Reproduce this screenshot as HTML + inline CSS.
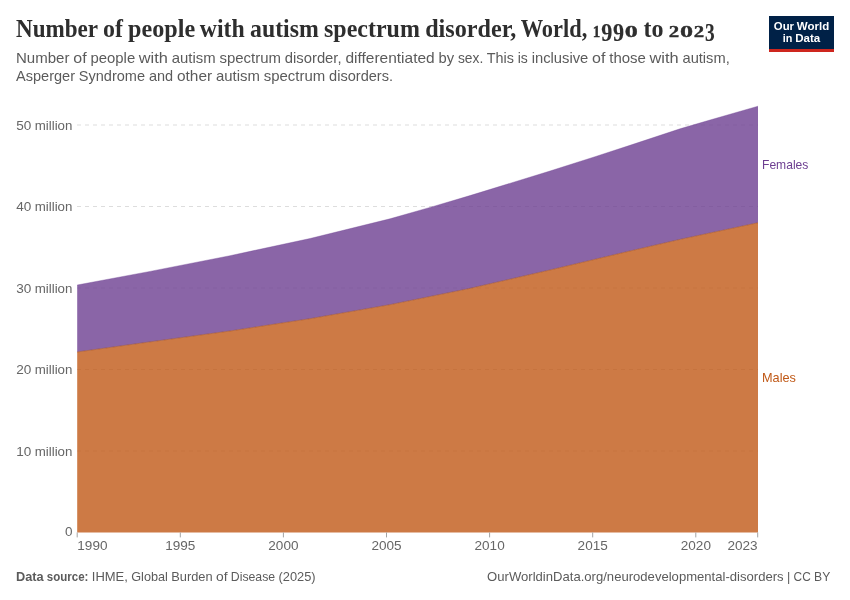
<!DOCTYPE html>
<html lang="en">
<head>
<meta charset="utf-8">
<title>Number of people with autism spectrum disorder, World, 1990 to 2023</title>
<style>
html,body{margin:0;padding:0;background:#fff;}
body{width:850px;height:600px;overflow:hidden;font-family:"Liberation Sans", sans-serif;}
svg{display:block;}
text{font-family:"Liberation Sans", sans-serif;}
.title{font-family:"Liberation Serif", serif;font-weight:bold;font-size:25px;fill:#2e2e2e;}
.sub{font-size:14.8px;fill:#5b5b5b;}
.ax{font-size:12.8px;fill:#666;}
.ft{font-size:12.8px;fill:#5b5b5b;}
.lg{font-size:11.8px;font-weight:bold;fill:#fff;}
</style>
</head>
<body>
<svg width="850" height="600" viewBox="0 0 850 600">
<rect x="0" y="0" width="850" height="600" fill="#ffffff"/>
<text class="title" y="37.4"><tspan x="16.00" y="37.4" textLength="81.70" lengthAdjust="spacingAndGlyphs">Number</tspan> <tspan x="102.97" y="37.4" textLength="19.89" lengthAdjust="spacingAndGlyphs">of</tspan> <tspan x="128.12" y="37.4" textLength="67.06" lengthAdjust="spacingAndGlyphs">people</tspan> <tspan x="199.84" y="37.4" textLength="44.95" lengthAdjust="spacingAndGlyphs">with</tspan> <tspan x="250.06" y="37.4" textLength="68.73" lengthAdjust="spacingAndGlyphs">autism</tspan> <tspan x="324.06" y="37.4" textLength="95.81" lengthAdjust="spacingAndGlyphs">spectrum</tspan> <tspan x="425.14" y="37.4" textLength="91.11" lengthAdjust="spacingAndGlyphs">disorder,</tspan> <tspan x="520.73" y="37.4" textLength="66.55" lengthAdjust="spacingAndGlyphs">World,</tspan> <tspan x="592.82" y="37.4" font-size="17.6" stroke="#2e2e2e" stroke-width="0.35" textLength="7.56" lengthAdjust="spacingAndGlyphs">1</tspan><tspan x="601.17" y="41.4" font-size="24.6" stroke="#2e2e2e" stroke-width="0.15" textLength="11.06" lengthAdjust="spacingAndGlyphs">9</tspan><tspan x="613.01" y="41.4" font-size="24.6" stroke="#2e2e2e" stroke-width="0.15" textLength="11.04" lengthAdjust="spacingAndGlyphs">9</tspan><tspan x="624.84" y="37.4" font-size="17.6" stroke="#2e2e2e" stroke-width="0.35" textLength="13.07" lengthAdjust="spacingAndGlyphs">0</tspan> <tspan x="643.42" y="37.4" textLength="20.00" lengthAdjust="spacingAndGlyphs">to</tspan> <tspan x="668.82" y="37.4" font-size="17.6" stroke="#2e2e2e" stroke-width="0.35" textLength="10.42" lengthAdjust="spacingAndGlyphs">2</tspan><tspan x="680.02" y="37.4" font-size="17.6" stroke="#2e2e2e" stroke-width="0.35" textLength="13.07" lengthAdjust="spacingAndGlyphs">0</tspan><tspan x="693.88" y="37.4" font-size="17.6" stroke="#2e2e2e" stroke-width="0.35" textLength="10.40" lengthAdjust="spacingAndGlyphs">2</tspan><tspan x="705.07" y="41.4" font-size="24.6" stroke="#2e2e2e" stroke-width="0.15" textLength="9.67" lengthAdjust="spacingAndGlyphs">3</tspan></text>
<text class="sub" y="62.5"><tspan x="16.00" textLength="53.48" lengthAdjust="spacingAndGlyphs">Number</tspan> <tspan x="73.33" textLength="13.33" lengthAdjust="spacingAndGlyphs">of</tspan> <tspan x="90.50" textLength="44.70" lengthAdjust="spacingAndGlyphs">people</tspan> <tspan x="138.75" textLength="29.14" lengthAdjust="spacingAndGlyphs">with</tspan> <tspan x="171.73" textLength="43.89" lengthAdjust="spacingAndGlyphs">autism</tspan> <tspan x="219.47" textLength="61.53" lengthAdjust="spacingAndGlyphs">spectrum</tspan> <tspan x="284.84" textLength="56.75" lengthAdjust="spacingAndGlyphs">disorder,</tspan> <tspan x="345.44" textLength="89.25" lengthAdjust="spacingAndGlyphs">differentiated</tspan> <tspan x="438.53" textLength="15.58" lengthAdjust="spacingAndGlyphs">by</tspan> <tspan x="457.95" textLength="25.33" lengthAdjust="spacingAndGlyphs">sex.</tspan> <tspan x="486.67" textLength="27.20" lengthAdjust="spacingAndGlyphs">This</tspan> <tspan x="517.72" textLength="10.11" lengthAdjust="spacingAndGlyphs">is</tspan> <tspan x="531.67" textLength="56.59" lengthAdjust="spacingAndGlyphs">inclusive</tspan> <tspan x="592.11" textLength="13.33" lengthAdjust="spacingAndGlyphs">of</tspan> <tspan x="609.28" textLength="36.67" lengthAdjust="spacingAndGlyphs">those</tspan> <tspan x="649.50" textLength="29.14" lengthAdjust="spacingAndGlyphs">with</tspan> <tspan x="682.48" textLength="47.30" lengthAdjust="spacingAndGlyphs">autism,</tspan></text>
<text class="sub" y="80.5"><tspan x="16.00" textLength="59.02" lengthAdjust="spacingAndGlyphs">Asperger</tspan> <tspan x="78.86" textLength="66.17" lengthAdjust="spacingAndGlyphs">Syndrome</tspan> <tspan x="148.88" textLength="24.23" lengthAdjust="spacingAndGlyphs">and</tspan> <tspan x="176.95" textLength="35.19" lengthAdjust="spacingAndGlyphs">other</tspan> <tspan x="215.98" textLength="43.89" lengthAdjust="spacingAndGlyphs">autism</tspan> <tspan x="263.72" textLength="61.53" lengthAdjust="spacingAndGlyphs">spectrum</tspan> <tspan x="329.09" textLength="63.94" lengthAdjust="spacingAndGlyphs">disorders.</tspan></text>
<g>
<rect x="769" y="16" width="65" height="36" fill="#002147"/>
<rect x="769" y="49" width="65" height="3" fill="#ce261e"/>
<text class="lg" y="30.4"><tspan x="773.84" textLength="20.19" lengthAdjust="spacingAndGlyphs">Our</tspan> <tspan x="796.80" textLength="32.36" lengthAdjust="spacingAndGlyphs">World</tspan></text>
<text class="lg" y="42.4"><tspan x="782.75" textLength="9.62" lengthAdjust="spacingAndGlyphs">in</tspan> <tspan x="795.23" textLength="25.02" lengthAdjust="spacingAndGlyphs">Data</tspan></text>
</g>
<g stroke="#dddddd" stroke-width="1" stroke-dasharray="4,4" fill="none">
<line x1="77" y1="125.0" x2="758" y2="125.0"/>
<line x1="77" y1="206.5" x2="758" y2="206.5"/>
<line x1="77" y1="288.0" x2="758" y2="288.0"/>
<line x1="77" y1="369.5" x2="758" y2="369.5"/>
<line x1="77" y1="451.0" x2="758" y2="451.0"/>
</g>
<g>
<text class="ax" y="129.5"><tspan x="16.30" textLength="15.09" lengthAdjust="spacingAndGlyphs">50</tspan> <tspan x="34.72" textLength="37.70" lengthAdjust="spacingAndGlyphs">million</tspan></text>
<text class="ax" y="211.0"><tspan x="16.30" textLength="15.09" lengthAdjust="spacingAndGlyphs">40</tspan> <tspan x="34.72" textLength="37.70" lengthAdjust="spacingAndGlyphs">million</tspan></text>
<text class="ax" y="292.5"><tspan x="16.30" textLength="15.09" lengthAdjust="spacingAndGlyphs">30</tspan> <tspan x="34.72" textLength="37.70" lengthAdjust="spacingAndGlyphs">million</tspan></text>
<text class="ax" y="374.0"><tspan x="16.30" textLength="15.09" lengthAdjust="spacingAndGlyphs">20</tspan> <tspan x="34.72" textLength="37.70" lengthAdjust="spacingAndGlyphs">million</tspan></text>
<text class="ax" y="455.5"><tspan x="16.30" textLength="15.09" lengthAdjust="spacingAndGlyphs">10</tspan> <tspan x="34.72" textLength="37.70" lengthAdjust="spacingAndGlyphs">million</tspan></text>
<text class="ax" y="536.0"><tspan x="64.95" textLength="7.55" lengthAdjust="spacingAndGlyphs">0</tspan></text>
</g>
<path d="M77.2,352 L150,341.9 L230,331.0 L310,318.7 L390,304.7 L470,288.4 L550,270.0 L630,251.0 L680,239.4 L710,233.0 L758.0,222.75 L758.0,532.4 L77.2,532.4 Z" fill="#C05917" fill-opacity="0.8"/>
<path d="M77.2,285 L150,271.4 L230,255.7 L310,238.5 L390,218.8 L430,207.4 L470,195.6 L550,171 L595,156.7 L630,145.3 L680,128.8 L710,120 L758.0,106.2 L758.0,222.75 L710,233.0 L680,239.4 L630,251.0 L550,270.0 L470,288.4 L390,304.7 L310,318.7 L230,331.0 L150,341.9 L77.2,352 Z" fill="#6D3E91" fill-opacity="0.8"/>
<path d="M77.2,352 L150,341.9 L230,331.0 L310,318.7 L390,304.7 L470,288.4 L550,270.0 L630,251.0 L680,239.4 L710,233.0 L758.0,222.75" fill="none" stroke="#A84E14" stroke-width="0.6" stroke-opacity="0.9"/>
<path d="M77.2,285 L150,271.4 L230,255.7 L310,238.5 L390,218.8 L430,207.4 L470,195.6 L550,171 L595,156.7 L630,145.3 L680,128.8 L710,120 L758.0,106.2" fill="none" stroke="#6D3E91" stroke-width="0.5" stroke-opacity="0.7"/>
<g stroke="#a3a3a3" stroke-width="1">
<line x1="77.2" y1="532.4" x2="77.2" y2="537.4"/>
<line x1="180.3" y1="532.4" x2="180.3" y2="537.4"/>
<line x1="283.4" y1="532.4" x2="283.4" y2="537.4"/>
<line x1="386.5" y1="532.4" x2="386.5" y2="537.4"/>
<line x1="489.6" y1="532.4" x2="489.6" y2="537.4"/>
<line x1="592.7" y1="532.4" x2="592.7" y2="537.4"/>
<line x1="695.8" y1="532.4" x2="695.8" y2="537.4"/>
<line x1="757.7" y1="532.4" x2="757.7" y2="537.4"/>
</g>
<g>
<text class="ax" y="550.4"><tspan x="77.30" textLength="30.17" lengthAdjust="spacingAndGlyphs">1990</tspan></text>
<text class="ax" y="550.4"><tspan x="165.22" textLength="30.17" lengthAdjust="spacingAndGlyphs">1995</tspan></text>
<text class="ax" y="550.4"><tspan x="268.33" textLength="30.17" lengthAdjust="spacingAndGlyphs">2000</tspan></text>
<text class="ax" y="550.4"><tspan x="371.43" textLength="30.17" lengthAdjust="spacingAndGlyphs">2005</tspan></text>
<text class="ax" y="550.4"><tspan x="474.54" textLength="30.17" lengthAdjust="spacingAndGlyphs">2010</tspan></text>
<text class="ax" y="550.4"><tspan x="577.64" textLength="30.17" lengthAdjust="spacingAndGlyphs">2015</tspan></text>
<text class="ax" y="550.4"><tspan x="680.75" textLength="30.17" lengthAdjust="spacingAndGlyphs">2020</tspan></text>
<text class="ax" y="550.4"><tspan x="727.43" textLength="30.17" lengthAdjust="spacingAndGlyphs">2023</tspan></text>
</g>
<text class="ax" y="169.1" style="fill:#6D3E91"><tspan x="762.00" textLength="46.38" lengthAdjust="spacingAndGlyphs">Females</tspan></text>
<text class="ax" y="382.0" style="fill:#C05917"><tspan x="762.00" textLength="33.91" lengthAdjust="spacingAndGlyphs">Males</tspan></text>
<text class="ft" y="580.9" font-weight="bold"><tspan x="16.00" textLength="27.67" lengthAdjust="spacingAndGlyphs">Data</tspan> <tspan x="46.84" textLength="41.62" lengthAdjust="spacingAndGlyphs">source:</tspan></text>
<text class="ft" y="580.9"><tspan x="91.77" textLength="36.11" lengthAdjust="spacingAndGlyphs">IHME,</tspan> <tspan x="131.21" textLength="36.69" lengthAdjust="spacingAndGlyphs">Global</tspan> <tspan x="171.22" textLength="41.41" lengthAdjust="spacingAndGlyphs">Burden</tspan> <tspan x="215.96" textLength="11.55" lengthAdjust="spacingAndGlyphs">of</tspan> <tspan x="230.83" textLength="44.33" lengthAdjust="spacingAndGlyphs">Disease</tspan> <tspan x="278.49" textLength="37.11" lengthAdjust="spacingAndGlyphs">(2025)</tspan></text>
<text class="ft" y="580.9"><tspan x="487.14" textLength="296.50" lengthAdjust="spacingAndGlyphs">OurWorldinData.org/neurodevelopmental-disorders</tspan> <tspan x="786.97" textLength="3.27" lengthAdjust="spacingAndGlyphs">|</tspan> <tspan x="793.57" textLength="17.19" lengthAdjust="spacingAndGlyphs">CC</tspan> <tspan x="814.08" textLength="16.22" lengthAdjust="spacingAndGlyphs">BY</tspan></text>
</svg>
</body>
</html>
